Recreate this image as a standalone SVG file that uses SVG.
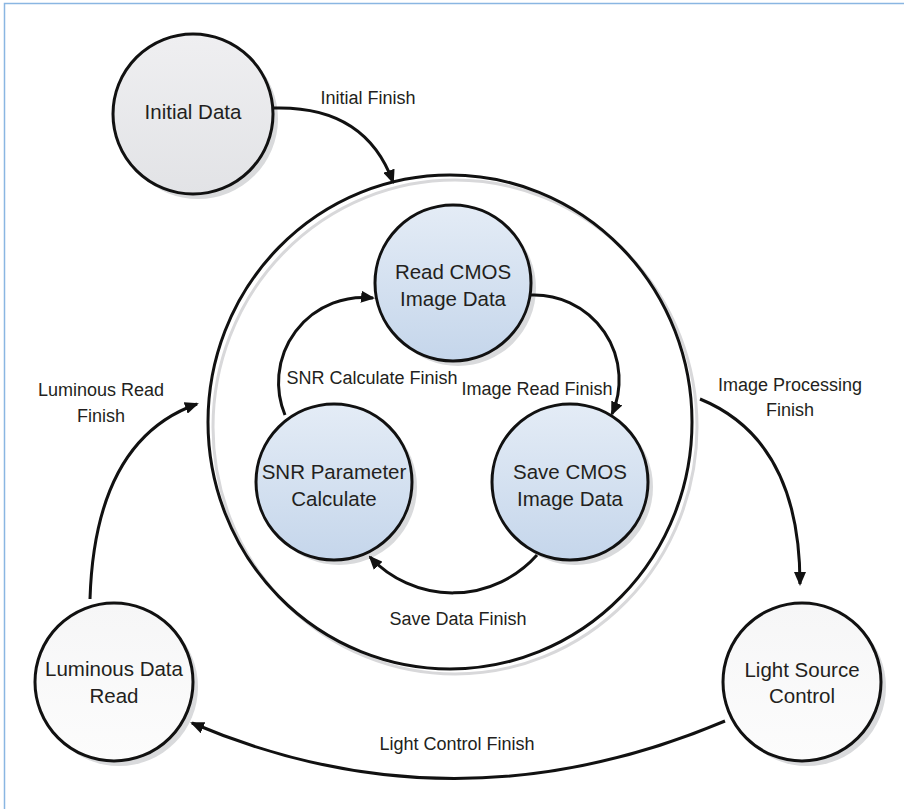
<svg xmlns="http://www.w3.org/2000/svg" width="904" height="809" viewBox="0 0 904 809">
  <defs>
    <linearGradient id="gGray" x1="0" y1="0" x2="0" y2="1">
      <stop offset="0" stop-color="#efeff1"/>
      <stop offset="1" stop-color="#e2e3e6"/>
    </linearGradient>
    <linearGradient id="gBlue" x1="0" y1="0" x2="0" y2="1">
      <stop offset="0" stop-color="#e4ecf6"/>
      <stop offset="1" stop-color="#c5d6eb"/>
    </linearGradient>
    <linearGradient id="gWhite" x1="0" y1="0" x2="0" y2="1">
      <stop offset="0" stop-color="#f6f6f7"/>
      <stop offset="1" stop-color="#fcfcfc"/>
    </linearGradient>
    <marker id="arrow" viewBox="0 0 14 12" markerWidth="14" markerHeight="12" refX="12" refY="6" orient="auto" markerUnits="userSpaceOnUse">
      <path d="M0,0 L14,6 L0,12 Z" fill="#111"/>
    </marker>
  </defs>
  <style>
    .node { stroke: #111; stroke-width: 3; }
    .shadow { fill: #d9dadc; }
    .edge { fill: none; stroke: #111; stroke-width: 3; marker-end: url(#arrow); }
    .ntext { font-family: "Liberation Sans", Arial, sans-serif; font-size: 20.5px; fill: #231f20; text-anchor: middle; }
    .ltext { font-family: "Liberation Sans", Arial, sans-serif; font-size: 18px; fill: #231f20; text-anchor: middle; }
  </style>

  <!-- frame -->
  <path d="M4.5,809 L4.5,3.5 L904,3.5" fill="none" stroke="#8ab6e2" stroke-width="1.5"/>

  <!-- enclosing state: image processing -->
  <g id="image-processing">
    <ellipse cx="455" cy="427" rx="242" ry="247" fill="none" stroke="#d8d8da" stroke-width="3"/>
    <ellipse cx="450" cy="422" rx="242" ry="247" fill="none" stroke="#111" stroke-width="3"/>
  </g>

  <g id="initial-data">
    <circle class="shadow" cx="198" cy="119" r="80"/>
    <circle class="node" cx="193" cy="114" r="80" fill="url(#gGray)"/>
    <text class="ntext" x="193" y="119">Initial Data</text>
  </g>

  <g id="read-cmos">
    <circle class="shadow" cx="458" cy="288" r="78"/>
    <circle class="node" cx="453" cy="283" r="78" fill="url(#gBlue)"/>
    <text class="ntext" x="453" y="279">Read CMOS</text>
    <text class="ntext" x="453" y="306">Image Data</text>
  </g>

  <g id="snr-parameter">
    <circle class="shadow" cx="339" cy="487" r="78"/>
    <circle class="node" cx="334" cy="482" r="78" fill="url(#gBlue)"/>
    <text class="ntext" x="334" y="479">SNR Parameter</text>
    <text class="ntext" x="334" y="506">Calculate</text>
  </g>

  <g id="save-cmos">
    <circle class="shadow" cx="575" cy="487" r="78"/>
    <circle class="node" cx="570" cy="482" r="78" fill="url(#gBlue)"/>
    <text class="ntext" x="570" y="479">Save CMOS</text>
    <text class="ntext" x="570" y="506">Image Data</text>
  </g>

  <g id="luminous-data-read">
    <circle class="shadow" cx="119" cy="687" r="79"/>
    <circle class="node" cx="114" cy="682" r="79" fill="url(#gWhite)"/>
    <text class="ntext" x="114" y="676">Luminous Data</text>
    <text class="ntext" x="114" y="703">Read</text>
  </g>

  <g id="light-source-control">
    <circle class="shadow" cx="807" cy="687" r="79"/>
    <circle class="node" cx="802" cy="682" r="79" fill="url(#gWhite)"/>
    <text class="ntext" x="802" y="677">Light Source</text>
    <text class="ntext" x="802" y="703">Control</text>
  </g>

  <!-- transitions -->
  <g id="connectors">
    <path class="edge" d="M273,108 Q365,105 393,182"/>
    <path class="edge" d="M700,399 Q800,440 800,584"/>
    <path class="edge" d="M725,721 Q455,835 192,723"/>
    <path class="edge" d="M90,599 Q95,440 197,404"/>
    <path class="edge" d="M285,415 A85,85 0 0 1 373,298"/>
    <path class="edge" d="M531,295 A85,85 0 0 1 612,414"/>
    <path class="edge" d="M537,555 A113,113 0 0 1 370,557"/>
  </g>

  <g id="labels">
    <text class="ltext" x="368" y="104">Initial Finish</text>
    <text class="ltext" x="790" y="391">Image Processing</text>
    <text class="ltext" x="790" y="416">Finish</text>
    <text class="ltext" x="101" y="396">Luminous Read</text>
    <text class="ltext" x="101" y="422">Finish</text>
    <text class="ltext" x="372" y="384">SNR Calculate Finish</text>
    <text class="ltext" x="537" y="395">Image Read Finish</text>
    <text class="ltext" x="458" y="625">Save Data Finish</text>
    <text class="ltext" x="457" y="750">Light Control Finish</text>
  </g>
</svg>
